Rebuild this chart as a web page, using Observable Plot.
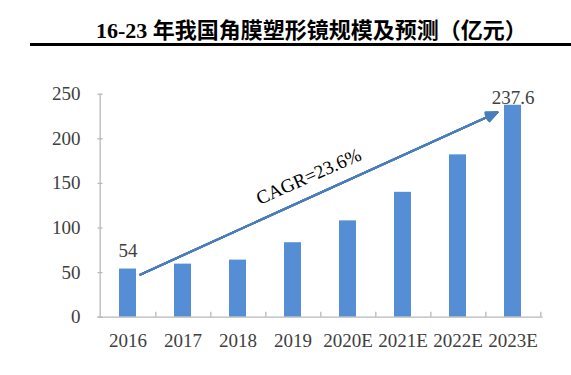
<!DOCTYPE html>
<html><head><meta charset="utf-8">
<script src="https://cdn.jsdelivr.net/npm/d3@7"></script>
<script src="https://cdn.jsdelivr.net/npm/@observablehq/plot@0.6"></script>
<style>
body{margin:0;background:#fff;}
#wrap{position:relative;width:571px;height:375px;overflow:hidden;background:#fff;}
#title{position:absolute;left:96px;top:17px;font-weight:bold;font-size:22px;line-height:22px;font-family:"Liberation Serif","Noto Sans CJK SC",serif;white-space:nowrap;color:#000;}
#title .cjk{font-family:"Noto Sans CJK SC",sans-serif;}
#rule{position:absolute;left:30px;top:43px;width:541px;height:3px;background:#000;}
#chart{position:absolute;left:0;top:48px;}
#chart svg text{font-family:"Liberation Serif",serif;}
</style>
</head><body>
<div id="wrap">
  <div id="title">16-23 <span class="cjk">年我国角膜塑形镜规模及预测（亿元）</span></div>
  <div id="rule"></div>
  <div id="chart"></div>
</div>
<script>
const years = ["2016","2017","2018","2019","2020E","2021E","2022E","2023E"];
const values = [54, 59.5, 64, 83.5, 108, 140, 182, 237.6];
const yTicks = [0, 50, 100, 150, 200, 250];
const labelYears = ["2016", "2023E"];
const labelTexts = ["54", "237.6"];
const labelValues = [54, 237.6];
const cagrText = ["CAGR=23.6%"];
const cagrYear = ["2019"];
const cagrValue = [157.7];
const arrowYears = ["2016", "2023E"];
const arrowValues = [41.5, 237.6];
const headAngles = [50, 42, 34, 26, 18, 10, 4];

const W = 571, H = 327;
const mL = 97.5, mR = 28.3, mT = 45.7, mB = 58.3;
const plotW = W - mL - mR, plotH = H - mT - mB;
const step = plotW / years.length;
const font = "Liberation Serif";

const data = years.map((y, i) => ({year: y, value: values[i]}));
const labels = labelYears.map((y, i) => ({year: y, value: labelValues[i], text: labelTexts[i]}));
const cagr = cagrText.map((t, i) => ({year: cagrYear[i], value: cagrValue[i], text: t}));
const arrowData = [{x1: arrowYears[0], y1: arrowValues[0], x2: arrowYears[1], y2: arrowValues[1]}];
const axisColor = "#b8b8b8";
const textColor = "#404040";

const chart = Plot.plot({
  width: W, height: H,
  marginLeft: mL, marginRight: mR, marginTop: mT, marginBottom: mB,
  style: {fontFamily: font, fontSize: "19px", color: textColor, background: "white", overflow: "visible"},
  x: {type: "band", domain: years, paddingInner: 0.686, paddingOuter: 0.343, axis: null},
  y: {domain: [0, 250], axis: null},
  marks: [
    Plot.barY(data, {x: "year", y: "value", fill: "#558ed5"}),
    Plot.ruleY([0], {stroke: axisColor, strokeWidth: 1.3}),
    Plot.ruleX([years[0]], {x: d => d, dx: -step / 2, stroke: axisColor, strokeWidth: 1.3}),
    Plot.ruleY(yTicks, {y: d => d, insetRight: plotW - 5, stroke: axisColor, strokeWidth: 1.3}),
    Plot.ruleX(years, {x: d => d, dx: step / 2, insetTop: plotH - 5, stroke: axisColor, strokeWidth: 1.3}),
    Plot.axisY({ticks: yTicks, tickSize: 0, tickPadding: 17.5, fontSize: 19, fontFamily: font, fill: textColor}),
    Plot.axisX({tickSize: 0, tickPadding: 16.5, fontSize: 19, fontFamily: font, fill: textColor}),
    Plot.text(labels.slice(0, 1), {x: "year", y: "value", text: "text", lineAnchor: "bottom", dy: -12, fontSize: 19, fontFamily: font, fill: textColor}),
    Plot.text(labels.slice(1), {x: "year", y: "value", text: "text", lineAnchor: "bottom", dy: -1, fontSize: 19, fontFamily: font, fill: textColor}),
    ...headAngles.map(a => Plot.arrow(arrowData, {x1: "x1", y1: "y1", x2: "x2", y2: "y2", stroke: "#4a7ebb", strokeWidth: 2, headLength: 9, headAngle: a, insetStart: 13.6, insetEnd: 17.1})),
    Plot.text(cagr, {x: "year", y: "value", text: "text", dx: 15.7, rotate: -24, fontSize: 19, fontFamily: font, fill: "#000"})
  ]
});
document.getElementById("chart").appendChild(chart);
</script>
</body></html>
